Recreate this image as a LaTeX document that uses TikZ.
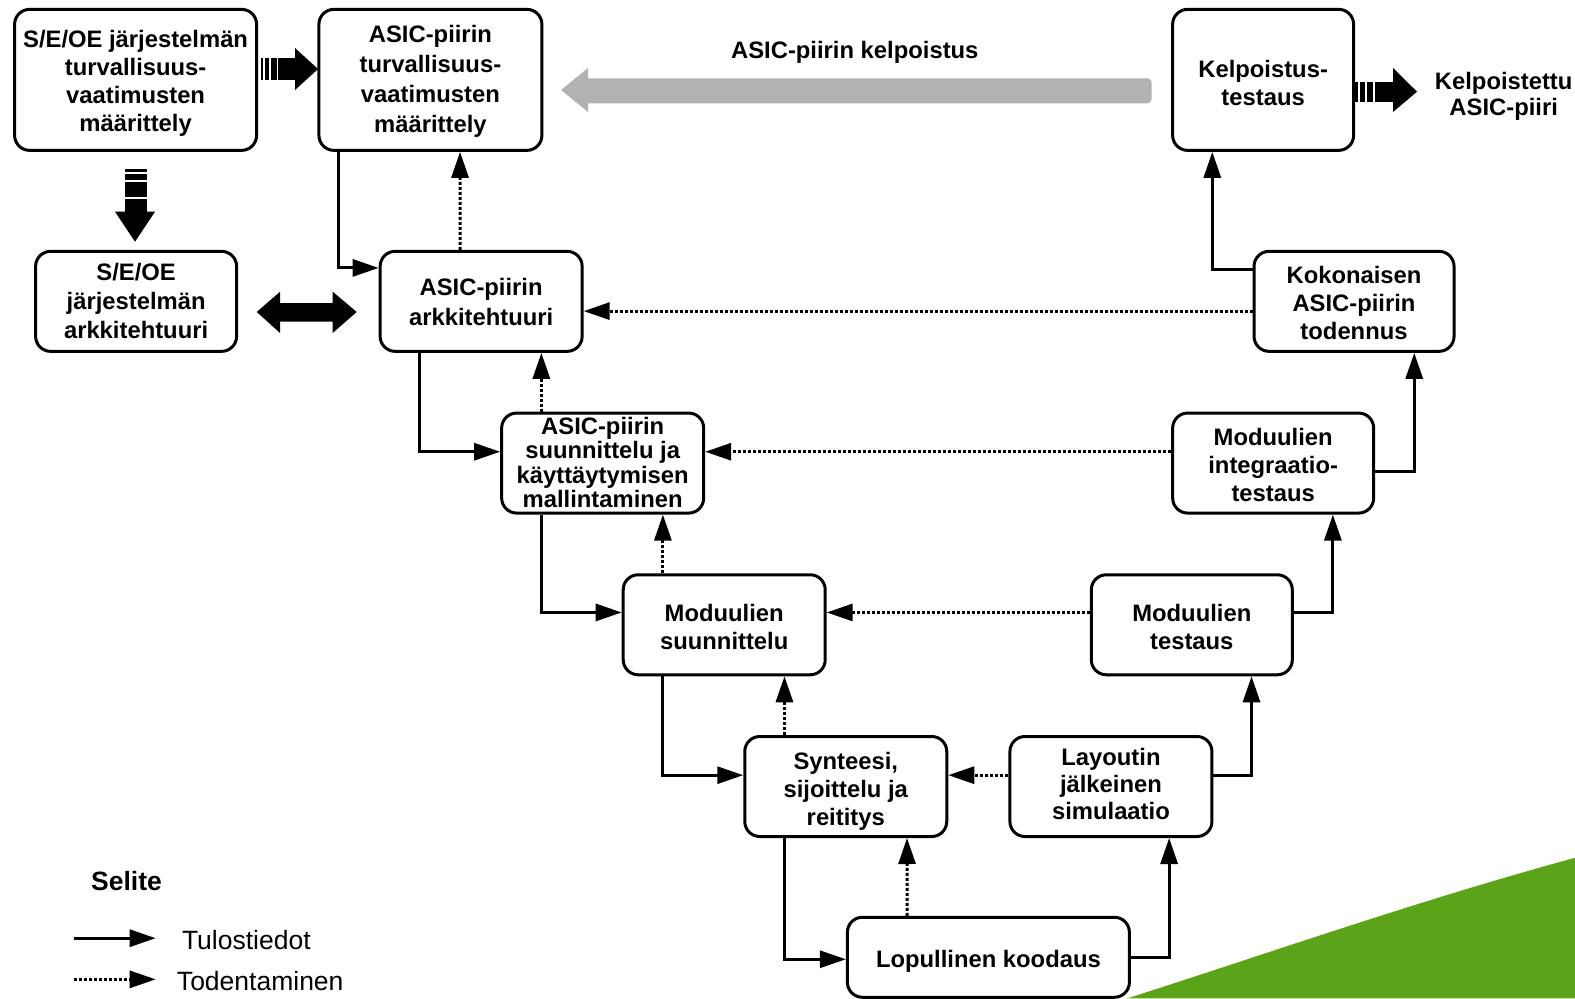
\documentclass[tikz,border=0pt]{standalone}
\usepackage{fontspec}
\setmainfont{Liberation Sans}
\usetikzlibrary{arrows.meta,calc}
\definecolor{kelpgray}{RGB}{178,178,178}
\definecolor{leafgreen}{RGB}{91,164,26}
% box text: centred lines, lowered by the first argument without changing the box size
\newcommand{\btxt}[2]{\raisebox{#1}[\height][\depth]{\begin{tabular}{@{}c@{}}#2\end{tabular}}}
\begin{document}
\begin{tikzpicture}[x=1.00446pt, y=-1.00446pt,
  box/.style={draw, line width=3pt, rounded corners=15pt,
    inner sep=0pt, font=\bfseries\fontsize{23.8}{28}\selectfont},
  flow/.style={line width=3pt, -{Triangle[length=26pt,width=17pt]}},
  check/.style={flow, dash pattern=on 3pt off 2pt},
  bigarrow/.style={fill=black},
  lbl/.style={font=\bfseries\fontsize{23.8}{26}\selectfont, align=center, inner sep=0pt},
  legendtext/.style={font=\fontsize{26.5}{30}\selectfont, anchor=west, inner sep=0pt}
]
\useasboundingbox (0,0) rectangle (1568,994);

% green corner decoration
\fill[leafgreen] (1122,994) .. controls (1260,950) and (1410,897) .. (1568,854) -- (1568,994) -- cycle;

% process boxes
\node[box, minimum width=242pt, minimum height=141pt] (b1) at (135,79.5)
  {\btxt{-4.2pt}{S/E/OE järjestelmän\\turvallisuus-\\vaatimusten\\määrittely}};
\node[box, minimum width=223pt, minimum height=141pt,
  font=\bfseries\fontsize{23.8}{30}\selectfont] (b2) at (428.5,79.5)
  {\btxt{-2pt}{ASIC-piirin\\turvallisuus-\\vaatimusten\\määrittely}};
\node[box, minimum width=181pt, minimum height=141pt] (b3) at (1257.5,79.5)
  {\btxt{-6.5pt}{Kelpoistus-\\testaus}};
\node[box, minimum width=201pt, minimum height=100pt,
  font=\bfseries\fontsize{23.8}{29}\selectfont] (b4) at (135.5,300)
  {\btxt{-2.5pt}{S/E/OE\\järjestelmän\\arkkitehtuuri}};
\node[box, minimum width=202pt, minimum height=100pt,
  font=\bfseries\fontsize{23.8}{30}\selectfont] (b5) at (479,300)
  {\btxt{-3pt}{ASIC-piirin\\arkkitehtuuri}};
\node[box, minimum width=200pt, minimum height=100pt] (b6) at (1348,300)
  {\btxt{-5pt}{Kokonaisen\\ASIC-piirin\\todennus}};
\node[box, minimum width=202pt, minimum height=100pt,
  font=\bfseries\fontsize{23.8}{23.3}\selectfont] (b7) at (600,461)
  {\btxt{-2.8pt}{ASIC-piirin\\suunnittelu ja\\käyttäytymisen\\mallintaminen}};
\node[box, minimum width=201pt, minimum height=100pt] (b8) at (1267.5,461)
  {\btxt{-4.8pt}{Moduulien\\integraatio-\\testaus}};
\node[box, minimum width=202pt, minimum height=100pt] (b9) at (721,622)
  {\btxt{-4.8pt}{Moduulien\\suunnittelu}};
\node[box, minimum width=201pt, minimum height=100pt] (b10) at (1186.5,622)
  {\btxt{-4.8pt}{Moduulien\\testaus}};
\node[box, minimum width=202pt, minimum height=100pt] (b11) at (842,783)
  {\btxt{-5pt}{Synteesi,\\sijoittelu ja\\reititys}};
\node[box, minimum width=202pt, minimum height=100pt,
  font=\bfseries\fontsize{23.8}{27}\selectfont] (b12) at (1106,783)
  {\btxt{-1pt}{Layoutin\\jälkeinen\\simulaatio}};
\node[box, minimum width=282pt, minimum height=80pt] (b13) at (984,953)
  {\btxt{-4.8pt}{Lopullinen koodaus}};

% free labels
\node[lbl] (kelp) at (851,52.5) {ASIC-piirin kelpoistus};
\node[lbl] (out) at (1497,96) {Kelpoistettu\\ASIC-piiri};

% qualification arrow (grey, pointing left)
\fill[kelpgray, rounded corners=4pt] (575,78) rectangle (1146.5,102.8);
\fill[kelpgray] (558.5,89.6) -- (585.4,67.7) -- (585.4,111.5) -- cycle;

% striped arrow: system requirements -> ASIC requirements
\fill[bigarrow] (259.5,57.7) rectangle (262.1,79.6);
\fill[bigarrow] (263.8,57.7) rectangle (268.1,79.6);
\fill[bigarrow] (269.8,57.7) rectangle (275.5,79.6);
\fill[bigarrow] (277.1,57.7) rectangle (294.5,79.6);
\fill[bigarrow] (293.7,47.8) -- (316.6,68.7) -- (293.7,89.6) -- cycle;

% striped arrow: system requirements -> system architecture
\fill[bigarrow] (124.4,168.2) rectangle (146,171);
\fill[bigarrow] (124.4,173.2) rectangle (146,179.2);
\fill[bigarrow] (124.4,181.5) rectangle (146,196);
\fill[bigarrow] (124.4,198) rectangle (146,211.5);
\fill[bigarrow] (114.5,210.8) -- (154.3,210.8) -- (134.4,240.6) -- cycle;

% two-way arrow between the architectures
\fill[bigarrow] (255.6,310.6) -- (278.8,290.4) -- (278.8,301.7) -- (331.2,301.7)
  -- (331.2,290.4) -- (355.1,310.6) -- (331.2,331.5) -- (331.2,320.3)
  -- (278.8,320.3) -- (278.8,331.5) -- cycle;

% striped arrow: qualification testing -> qualified ASIC
\fill[bigarrow] (1349,81.3) rectangle (1352,101.2);
\fill[bigarrow] (1354,81.3) rectangle (1359,101.2);
\fill[bigarrow] (1361,81.3) rectangle (1367,101.2);
\fill[bigarrow] (1369,81.3) rectangle (1387.5,101.2);
\fill[bigarrow] (1386.8,67.7) -- (1410.7,91.3) -- (1386.8,111.5) -- cycle;

% design flow (solid) and verification (dotted)
\draw[flow]  ($(b2.south west)+(21,0)$) |- ($(b5.north west)+(0,18)$);
\draw[check] ($(b5.north west)+(81,0)$) -- ($(b2.south west)+(142,0)$);
\draw[flow]  ($(b5.south west)+(41,0)$) |- ($(b7.north west)+(0,40)$);
\draw[check] ($(b7.north west)+(41,0)$) -- ($(b5.south west)+(162,0)$);
\draw[flow]  ($(b7.south west)+(41,0)$) |- ($(b9.north west)+(0,39)$);
\draw[check] ($(b9.north west)+(41,0)$) -- ($(b7.south west)+(162,0)$);
\draw[flow]  ($(b9.south west)+(41,0)$) |- ($(b11.north west)+(0,40)$);
\draw[check] ($(b11.north west)+(41,0)$) -- ($(b9.south west)+(162,0)$);
\draw[flow]  ($(b11.south west)+(41,0)$) |- ($(b13.west)+(0,2)$);
\draw[check] ($(b13.north west)+(61,0)$) -- ($(b11.south west)+(163,0)$);
\draw[flow]  (b13.east) -| ($(b12.south west)+(160,0)$);
\draw[check] ($(b12.north west)+(0,40)$) -- ($(b11.north east)+(0,40)$);
\draw[flow]  ($(b12.north east)+(0,40)$) -| ($(b10.south west)+(161,0)$);
\draw[check] ($(b10.north west)+(0,39)$) -- ($(b9.north east)+(0,39)$);
\draw[flow]  ($(b10.north east)+(0,39)$) -| ($(b8.south west)+(161,0)$);
\draw[check] ($(b8.north west)+(0,40)$) -- ($(b7.north east)+(0,40)$);
\draw[flow]  ($(b8.north east)+(0,60)$) -| ($(b6.south west)+(161,0)$);
\draw[check] ($(b6.north west)+(0,61)$) -- ($(b5.north east)+(0,61)$);
\draw[flow]  ($(b6.north west)+(0,20)$) -| ($(b3.south west)+(41,0)$);

% legend
\node[font=\bfseries\fontsize{26.5}{30}\selectfont, inner sep=0pt] (sel) at (126,877) {Selite};
\coordinate (l1a) at (74,934);
\coordinate (l1b) at (155,934);
\coordinate (l2a) at (74,975);
\coordinate (l2b) at (155,975);
\draw[flow] (l1a) -- (l1b);
\draw[check] (l2a) -- (l2b);
\node[legendtext] (t1) at (181,936) {Tulostiedot};
\node[legendtext] (t2) at (176,977) {Todentaminen};
\end{tikzpicture}
\end{document}
